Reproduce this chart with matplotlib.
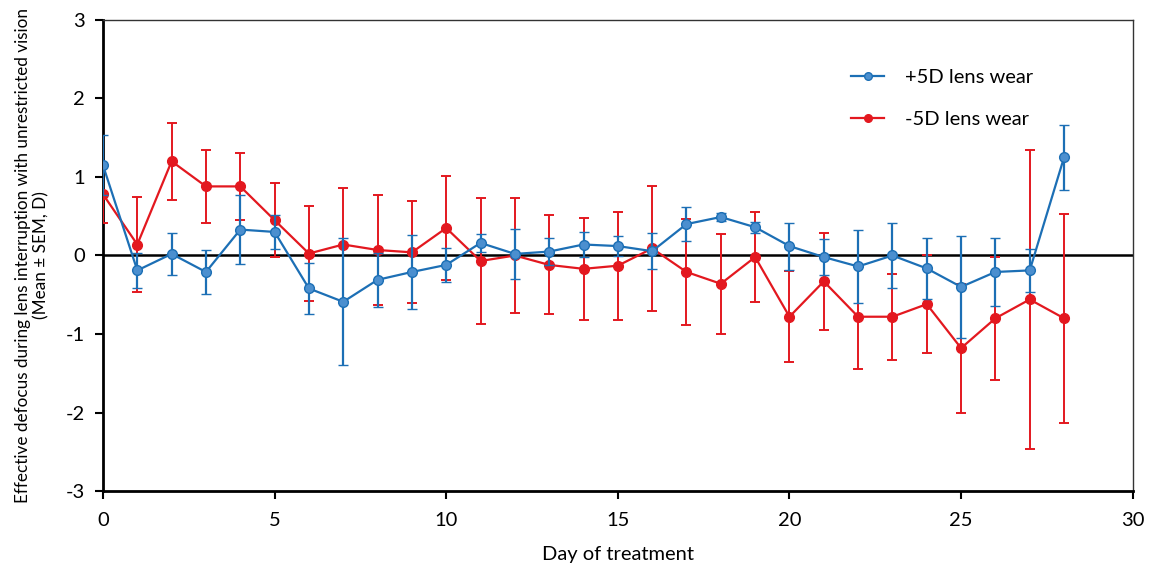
import numpy as np
import matplotlib.pyplot as plt
from matplotlib.lines import Line2D

# ========= Data =========
days = list(range(29))

plus_mean = [1.15, -0.19, 0.02, -0.21, 0.33, 0.30, -0.42, -0.59, -0.31, -0.21,
             -0.12, 0.16, 0.02, 0.05, 0.14, 0.12, 0.055, 0.40, 0.49, 0.36,
             0.12, -0.02, -0.14, 0.0, -0.165, -0.40, -0.21, -0.19, 1.25]
plus_sem = [0.38, 0.22, 0.27, 0.28, 0.44, 0.22, 0.32, 0.81, 0.34, 0.47,
            0.22, 0.12, 0.32, 0.17, 0.16, 0.13, 0.23, 0.22, 0.05, 0.07,
            0.30, 0.23, 0.47, 0.42, 0.39, 0.65, 0.43, 0.27, 0.41]

minus_mean = [0.78, 0.14, 1.20, 0.88, 0.88, 0.45, 0.025, 0.14, 0.07, 0.04,
              0.35, -0.07, 0.0, -0.12, -0.17, -0.13, 0.09, -0.21, -0.36, -0.02,
              -0.78, -0.33, -0.78, -0.78, -0.62, -1.18, -0.80, -0.56, -0.80]
minus_sem = [0.37, 0.61, 0.49, 0.47, 0.43, 0.47, 0.61, 0.72, 0.70, 0.65,
             0.66, 0.80, 0.73, 0.63, 0.65, 0.69, 0.80, 0.67, 0.64, 0.57,
             0.58, 0.62, 0.66, 0.55, 0.62, 0.82, 0.78, 1.90, 1.33]

plt.rcParams['font.family'] = ['Lato', 'DejaVu Sans']
plt.rcParams['axes.unicode_minus'] = False

fig = plt.figure(figsize=(11.57, 5.64), dpi=100)
ax = fig.add_axes([0.089, 0.1294, 0.890, 0.8352])

blue = "#1c6fb5"
blue_face = "#4b8fcf"
red = "#e3181f"

# zero reference line
ax.axhline(0, color="black", linewidth=1.8, zorder=1)

ax.errorbar(days, minus_mean, yerr=minus_sem, color=red, ecolor=red,
            elinewidth=1.4, capsize=3.5, capthick=1.4, linewidth=1.6,
            marker="o", markersize=7, markerfacecolor=red, markeredgecolor=red,
            zorder=3)
ax.errorbar(days, plus_mean, yerr=plus_sem, color=blue, ecolor=blue,
            elinewidth=1.6, capsize=3.5, capthick=2.0, linewidth=1.6,
            marker="o", markersize=7, markerfacecolor=blue_face, markeredgecolor=blue,
            markeredgewidth=1.0, zorder=4)

ax.set_xlim(0, 30)
ax.set_ylim(-3, 3)
ax.set_xticks([0, 5, 10, 15, 20, 25, 30])
ax.set_yticks([-3, -2, -1, 0, 1, 2, 3])

for side in ["left", "bottom"]:
    ax.spines[side].set_linewidth(2.0)
    ax.spines[side].set_color("black")
for side in ["top", "right"]:
    ax.spines[side].set_linewidth(1.0)
    ax.spines[side].set_color("#333333")

ax.tick_params(axis="both", direction="out", length=6, width=1.5, labelsize=14.5)
ax.tick_params(axis="x", pad=9)
ax.tick_params(axis="y", pad=7)
ax.tick_params(top=False, right=False)

ax.set_xlabel("Day of treatment", fontsize=14.5, labelpad=12)
ax.set_ylabel("Effective defocus during lens interruption with unrestricted vision\n(Mean \u00b1 SEM, D)",
              fontsize=12.3, labelpad=12, linespacing=1.15)

handles = [
    Line2D([], [], color=blue, linewidth=1.6, marker="o", markersize=5.5,
           markerfacecolor=blue_face, markeredgecolor=blue),
    Line2D([], [], color=red, linewidth=1.6, marker="o", markersize=5.5,
           markerfacecolor=red, markeredgecolor=red),
]
ax.legend(handles, ["+5D lens wear", "-5D lens wear"], loc="upper left",
          bbox_to_anchor=(0.709, 0.935), frameon=False, fontsize=14.5,
          handlelength=1.65, labelspacing=1.25, handletextpad=1.0)

fig.savefig("out.png", dpi=100)
